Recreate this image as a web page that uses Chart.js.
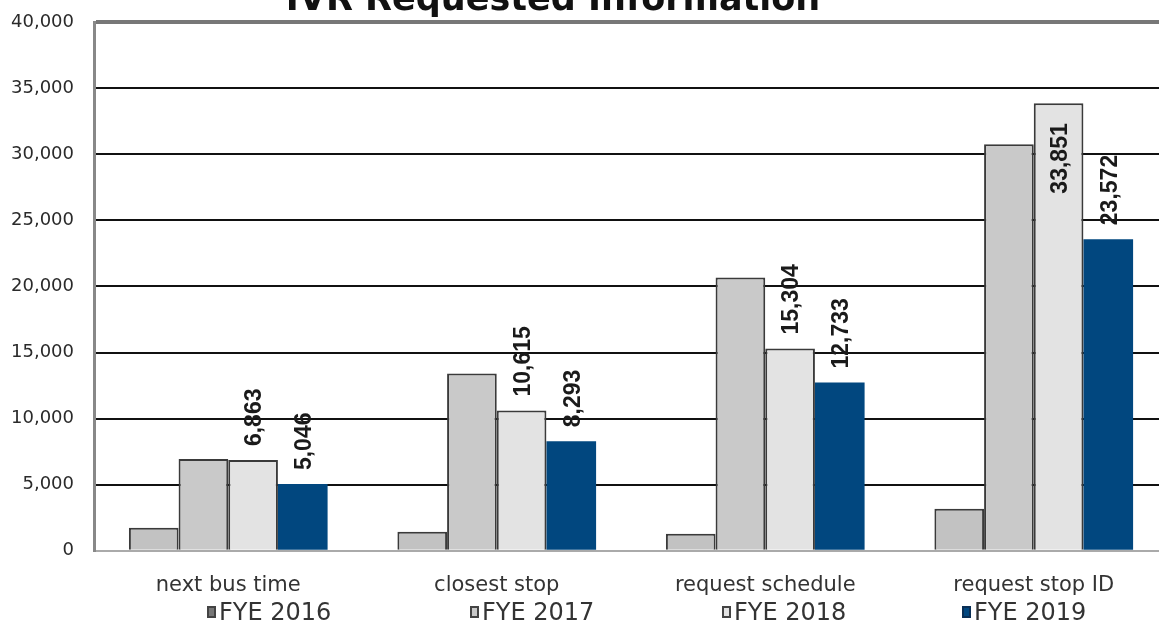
<!DOCTYPE html>
<html>
<head>
<meta charset="utf-8">
<script src="https://cdn.jsdelivr.net/npm/chart.js"></script>
<style>
  html, body { margin: 0; padding: 0; background: #fff; overflow: hidden; }
  #wrap { position: relative; width: 1180px; height: 629px; }
  #legend { position: absolute; left: 0; top: 597px; width: 1159px; height: 30px;
            font-family: "DejaVu Sans", sans-serif; font-size: 24px; color: #333; }
  .item { position: absolute; top: 0; display: flex; align-items: center; height: 30px; }
  .box { width: 9px; height: 12px; margin-right: 3px; box-sizing: border-box; border: 2px solid #444; }
</style>
</head>
<body>
<div id="wrap">
  <canvas id="ivrChart" width="1180" height="629"></canvas>
  <div id="legend"></div>
</div>
<script>
const categories = ['next bus time', 'closest stop', 'request schedule', 'request stop ID'];
const seriesNames = ['FYE 2016', 'FYE 2017', 'FYE 2018', 'FYE 2019'];
const fye2016 = [1740, 1440, 1290, 3180];
const fye2017 = [6950, 13410, 20680, 30760];
const fye2018 = [6863, 10615, 15304, 33851];
const fye2019 = [5046, 8293, 12733, 23572];
const yTicks = [0, 5000, 10000, 15000, 20000, 25000, 30000, 35000, 40000];

const fills = ['#c2c2c2', '#c9c9c9', '#e3e3e3', '#01477f'];
const edges = ['#3a3a3a', '#3a3a3a', '#3a3a3a', '#01477f'];
const labelled = [2, 3]; // only FYE 2018 and FYE 2019 carry value labels
const legendX = [207, 470, 722, 962];

const values = [fye2016, fye2017, fye2018, fye2019];

// vertical value labels above bars (inside the bar when there is no room)
const barLabels = {
  id: 'barLabels',
  afterDatasetsDraw(chart) {
    const ctx = chart.ctx;
    ctx.save();
    ctx.font = 'bold 23px "Liberation Sans", Arial, sans-serif';
    ctx.fillStyle = '#1a1a1a';
    ctx.textBaseline = 'middle';
    labelled.forEach(di => {
      chart.getDatasetMeta(di).data.forEach((bar, i) => {
        const txt = values[di][i].toLocaleString('en-US');
        const w = ctx.measureText(txt).width;
        ctx.save();
        ctx.translate(bar.x + 2, 0);
        ctx.rotate(-Math.PI / 2);
        const y = bar.y - 14;
        if (y - w < chart.chartArea.top) {
          ctx.textAlign = 'right';
          ctx.fillText(txt, -(bar.y + 20), 0);
        } else {
          ctx.textAlign = 'left';
          ctx.fillText(txt, -y, 0);
        }
        ctx.restore();
      });
    });
    ctx.restore();
  }
};

// heading sits partly above the top edge
const heading = {
  id: 'heading',
  afterDraw(chart) {
    const ctx = chart.ctx;
    ctx.save();
    ctx.font = 'bold 35px "DejaVu Sans", sans-serif';
    ctx.fillStyle = '#111';
    ctx.textAlign = 'center';
    ctx.textBaseline = 'alphabetic';
    ctx.fillText('IVR Requested Information', 553, 10);
    ctx.restore();
  }
};

new Chart(document.getElementById('ivrChart').getContext('2d'), {
  type: 'bar',
  data: {
    labels: categories,
    datasets: values.map((v, i) => ({
      label: seriesNames[i],
      data: v,
      backgroundColor: fills[i],
      borderColor: edges[i],
      borderWidth: i === 3 ? 0 : 2,
      categoryPercentage: 0.74,
      barPercentage: 1
    }))
  },
  options: {
    responsive: false,
    animation: false,
    layout: { padding: { top: 22, left: 0, right: 12, bottom: 17 } },
    plugins: {
      legend: { display: false },
      title: { display: false },
      tooltip: { enabled: false }
    },
    scales: {
      x: {
        grid: { display: false },
        border: { color: '#aaa', width: 2 },
        ticks: {
          padding: 14,
          color: '#333',
          font: { family: '"DejaVu Sans", sans-serif', size: 21 }
        }
      },
      y: {
        min: 0,
        max: 40000,
        afterBuildTicks(scale) { scale.ticks = yTicks.map(v => ({ value: v })); },
        afterFit(scale) {
          scale.width = 94;
          scale.paddingTop = 0;
        },
        grid: {
          drawTicks: false,
          color: c => c.tick.value === 40000 ? '#777' : (c.tick.value === 0 ? '#bbb' : '#111'),
          lineWidth: c => c.tick.value === 40000 ? 4 : 2
        },
        border: { color: '#888', width: 3 },
        ticks: {
          padding: 20,
          color: '#2a2a2a',
          font: { family: '"DejaVu Sans", sans-serif', size: 18 },
          callback: v => v.toLocaleString('en-US')
        }
      }
    }
  },
  plugins: [barLabels, heading]
});

// legend row below the category labels
const legend = document.getElementById('legend');
seriesNames.forEach((name, i) => {
  const item = document.createElement('div');
  item.className = 'item';
  item.style.left = legendX[i] + 'px';
  const box = document.createElement('span');
  box.className = 'box';
  box.style.background = i === 0 ? '#777' : fills[i];
  box.style.borderColor = i === 3 ? '#0a2f55' : '#444';
  item.appendChild(box);
  item.appendChild(document.createTextNode(name));
  legend.appendChild(item);
});
</script>
</body>
</html>
